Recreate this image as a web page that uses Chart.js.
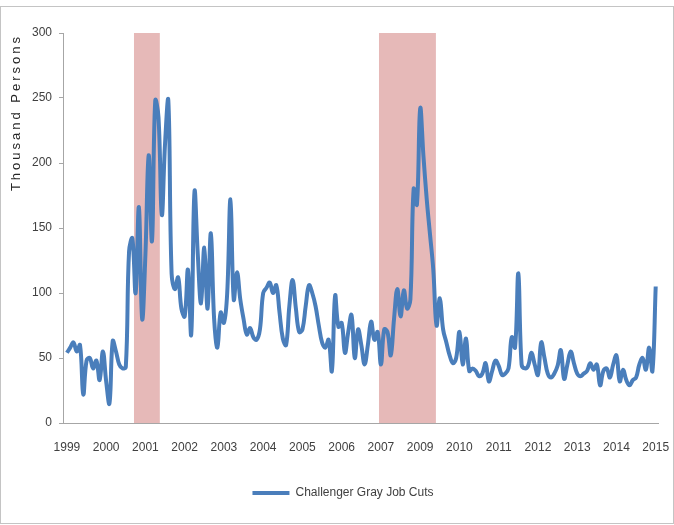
<!DOCTYPE html>
<html>
<head>
<meta charset="utf-8">
<title>Challenger Gray Job Cuts</title>
<script src="https://cdn.jsdelivr.net/npm/chart.js@4.4.1/dist/chart.umd.min.js"></script>
<style>
    html, body { margin: 0; padding: 0; background: #ffffff; }
    #wrap { position: relative; width: 674px; height: 525px; }
    #frame {
        position: absolute; left: 0; top: 6px; width: 672px; height: 516px;
        border: 1px solid #c4c4c4; pointer-events: none;
    }
    canvas { position: absolute; left: 0; top: 0; }
</style>
</head>
<body>
<div id="wrap">
    <div id="frame"></div>
    <canvas id="chartCanvas" width="674" height="525"></canvas>
</div>
<script>
// Axis labels as printed on the original (note: it skips 2008)
const tickLabels = ['1999', '2000', '2001', '2002', '2003', '2004', '2005', '2006',
                    '2007', '2009', '2010', '2011', '2012', '2013', '2014', '2015'];
const monthsPerTick = 12;

// Monthly job cuts, thousand persons
const jobCuts = [
    54, 58, 62, 55, 60, 22, 48, 50, 42, 48, 33, 55,
    32, 15, 63, 55, 45, 42, 43, 132, 142, 100, 166, 80,
    130, 206, 140, 248, 235, 160, 215, 248, 115, 103, 112, 88,
    82, 118, 68, 178, 130, 92, 135, 88, 146, 80, 58, 85,
    77, 100, 172, 95, 116, 95, 80, 68, 73, 66, 64, 72,
    100, 104, 108, 100, 106, 85, 65, 60, 90, 110, 88, 70,
    72, 90, 106, 100, 90, 75, 62, 58, 64, 40, 98, 74,
    77, 54, 70, 83, 50, 72, 60, 45, 60, 78, 64, 70,
    45, 72, 70, 52, 80, 103, 82, 102, 88, 95, 180, 168,
    242, 205, 172, 145, 118, 75, 96, 72, 62, 52, 46, 50,
    70, 45, 65, 40, 42, 40, 36, 38, 46, 32, 40, 48,
    44, 37, 38, 42, 66, 58, 115, 45, 42, 44, 54, 45,
    37, 62, 50, 38, 35, 38, 44, 56, 34, 45, 55, 46,
    38, 36, 38, 40, 46, 41, 45, 29, 40, 42, 35, 45,
    52, 32, 41, 33, 29, 33, 35, 45, 50, 41, 58, 40,
    105
];

// Recession shading, in month index units
const recessionStarts = [20.5, 95.4];
const recessionEnds = [28.4, 112.8];

const seriesName = 'Challenger Gray Job Cuts';
const yTitle = 'Thousand Persons';

const points = jobCuts.map((v, i) => ({ x: i, y: v }));
const fontFamily = "'Liberation Sans', Arial, sans-serif";

// pink bars behind the line
const recessionPlugin = {
    id: 'recessions',
    beforeDatasetsDraw(chart) {
        const { ctx, scales } = chart;
        ctx.save();
        ctx.fillStyle = '#e6b9b8';
        recessionStarts.forEach((start, i) => {
            const x1 = scales.x.getPixelForValue(start);
            const x2 = scales.x.getPixelForValue(recessionEnds[i]);
            const yTop = scales.y.getPixelForValue(300);
            const yBot = scales.y.getPixelForValue(0);
            ctx.fillRect(x1, yTop, x2 - x1, yBot - yTop);
        });
        ctx.restore();
    }
};

// y title is drawn by hand so it can get the wide letter spacing
const yTitlePlugin = {
    id: 'yTitle',
    afterDraw(chart) {
        const ctx = chart.ctx;
        ctx.save();
        ctx.translate(16, chart.chartArea.top + 1);
        ctx.rotate(-Math.PI / 2);
        ctx.font = '13px ' + fontFamily;
        ctx.fillStyle = '#262626';
        if ('letterSpacing' in ctx) ctx.letterSpacing = '3px';
        ctx.textAlign = 'right';
        ctx.textBaseline = 'middle';
        ctx.fillText(yTitle, 0, 0);
        ctx.restore();
    }
};

// nudge the legend a little right, like the original
const legendShift = {
    id: 'legendShift',
    afterLayout(chart) {
        if (chart.legend) {
            chart.legend.left += 6;
            chart.legend.right += 6;
        }
    }
};

const ctx = document.getElementById('chartCanvas').getContext('2d');
new Chart(ctx, {
    type: 'line',
    data: {
        datasets: [{
            label: seriesName,
            data: points,
            borderColor: '#4a7ebb',
            backgroundColor: '#4a7ebb',
            borderWidth: 4,
            pointRadius: 0,
            tension: 0.4,
            fill: false
        }]
    },
    options: {
        responsive: false,
        animation: false,
        layout: {
            padding: { top: 33, right: 0, bottom: 16, left: 0 }
        },
        plugins: {
            legend: {
                position: 'bottom',
                labels: {
                    usePointStyle: true,
                    pointStyle: 'line',
                    pointStyleWidth: 37,
                    padding: 10,
                    color: '#404040',
                    font: { family: fontFamily, size: 12 }
                }
            },
            tooltip: { enabled: false }
        },
        scales: {
            x: {
                type: 'linear',
                min: -1.2,
                max: 180.7,
                afterBuildTicks: (scale) => {
                    scale.ticks = tickLabels.map((_, k) => ({ value: k * monthsPerTick }));
                },
                afterFit: (scale) => {
                    scale.height = 54;
                    scale.paddingLeft = 0;
                    scale.paddingRight = 16;
                },
                grid: { display: false, drawTicks: false },
                border: { display: true, color: '#a6a6a6', width: 1 },
                ticks: {
                    autoSkip: false,
                    maxRotation: 0,
                    padding: 17,
                    color: '#404040',
                    font: { family: fontFamily, size: 12 },
                    callback: (value) => tickLabels[Math.round(value / monthsPerTick)]
                }
            },
            y: {
                min: 0,
                max: 300,
                afterFit: (scale) => { scale.width = 63; },
                grid: {
                    drawOnChartArea: false,
                    drawTicks: true,
                    tickLength: 4,
                    color: '#a6a6a6'
                },
                border: { display: true, color: '#a6a6a6', width: 1 },
                ticks: {
                    stepSize: 50,
                    padding: 7,
                    color: '#404040',
                    font: { family: fontFamily, size: 12 }
                }
            }
        }
    },
    plugins: [recessionPlugin, yTitlePlugin, legendShift]
});
</script>
</body>
</html>
